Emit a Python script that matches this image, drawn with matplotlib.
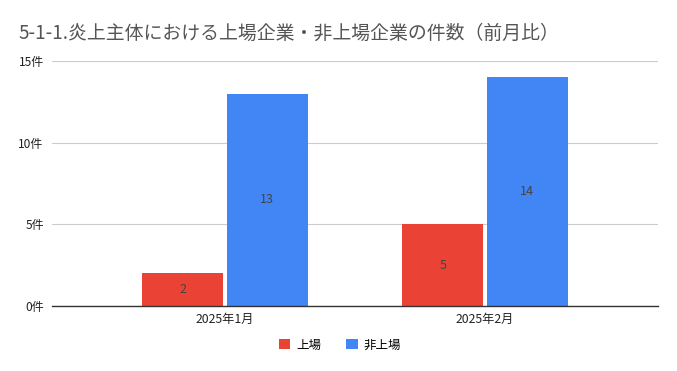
import matplotlib
matplotlib.use("Agg")
import matplotlib.pyplot as plt
import numpy as np

plt.rcParams['font.family'] = ['Noto Sans CJK JP', 'DejaVu Sans']

categories = ["2025年1月", "2025年2月"]
listed = [2, 5]
unlisted = [13, 14]
series_names = ["上場", "非上場"]
yticks = [0, 5, 10, 15]
ytick_labels = ["0件", "5件", "10件", "15件"]
title = "5-1-1.炎上主体における上場企業・非上場企業の件数（前月比）"

red = "#EA4335"
blue = "#4285F4"

fig = plt.figure(figsize=(6.77, 3.71), dpi=100)
ax = fig.add_axes([52/677, 65/371, 606/677, 245/371])

x = np.arange(len(categories))
w = 0.312
gap = 0.006
b1 = ax.bar(x - w/2 - gap, listed, w, color=red, label=series_names[0])
b2 = ax.bar(x + w/2 + gap, unlisted, w, color=blue, label=series_names[1])

for bars in (b1, b2):
    for r in bars:
        h = r.get_height()
        ax.text(r.get_x() + r.get_width()/2, h/2, f"{h:g}", ha="center", va="center",
                fontsize=9, color="#444444")

ax.set_xlim(-0.665, 1.665)
ax.set_ylim(0, 15)
ax.set_yticks(yticks)
ax.set_yticklabels(ytick_labels, fontsize=8.6, color="#222222")
ax.set_xticks(x)
ax.set_xticklabels(categories, fontsize=8.8, color="#222222")
ax.tick_params(axis="both", length=0)
ax.tick_params(axis="y", pad=6)
ax.tick_params(axis="x", pad=5)
ax.grid(axis="y", color="#cccccc", linewidth=0.8)
ax.set_axisbelow(True)
for s in ["top", "right", "left"]:
    ax.spines[s].set_visible(False)
ax.spines["bottom"].set_color("#333333")
ax.spines["bottom"].set_linewidth(1.0)

fig.text(18/677, 1 - 33/371, title, fontsize=13.6, color="#555555", va="center", ha="left")

leg = fig.legend(handles=[b1, b2], labels=series_names, loc="center",
                 bbox_to_anchor=(340/677, 1 - 345/371), ncol=2, frameon=False,
                 fontsize=9, handlelength=0.9, handleheight=0.9, columnspacing=2.0,
                 handletextpad=0.5)

fig.savefig("out.png", dpi=100)
